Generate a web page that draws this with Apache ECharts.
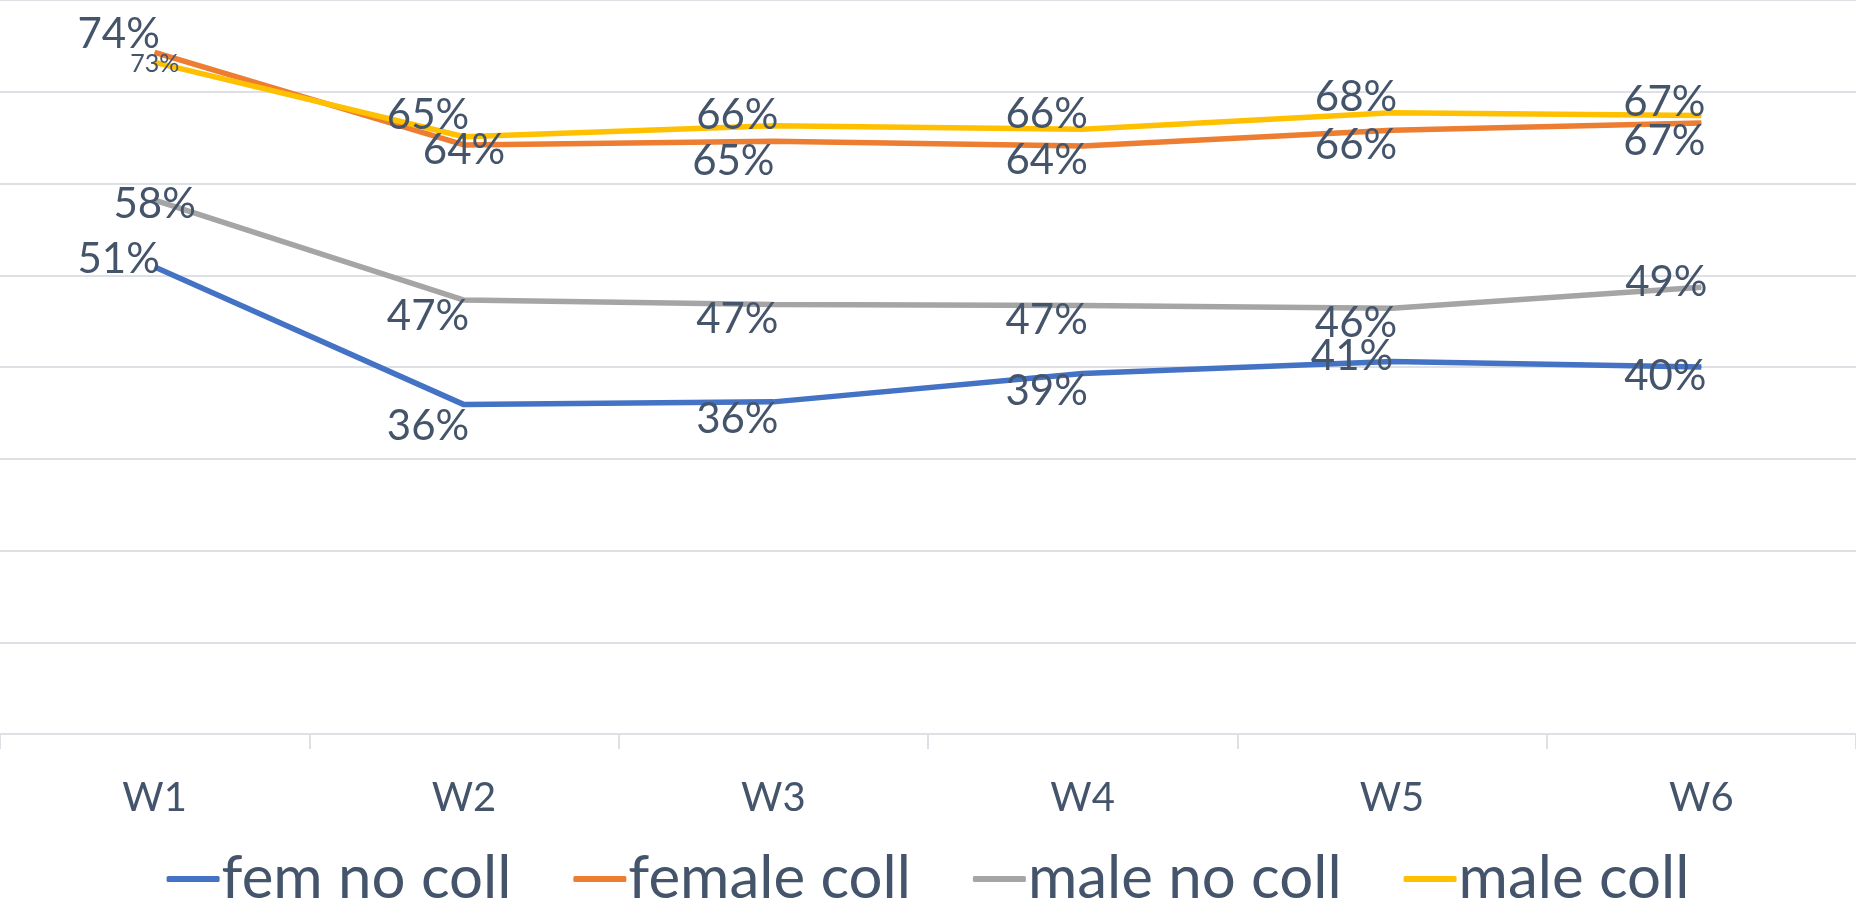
<!DOCTYPE html>
<html>
<head>
<meta charset="utf-8">
<script src="https://cdn.jsdelivr.net/npm/echarts@6/dist/echarts.min.js"></script>
<style>
  html, body { margin: 0; padding: 0; background: #fff; }
  #chart { width: 1856px; height: 916px; }
</style>
</head>
<body>
<div id="chart"></div>
<script>
// categories and values (percent)
var weeks = ['W1', 'W2', 'W3', 'W4', 'W5', 'W6'];
var femNoColl = [50.9, 35.9, 36.2, 39.3, 40.6, 40.0];
var femaleColl = [74.3, 64.2, 64.6, 64.1, 65.8, 66.6];
var maleNoColl = [58.2, 47.3, 46.8, 46.7, 46.4, 48.7];
var maleColl = [73.2, 65.1, 66.3, 65.9, 67.7, 67.4];

var textColor = '#44546A';
var gridColor = '#DDE1E6';
var font = 'Lato';

// where each data label sits relative to its point (px)
var offsets = {
    'fem no coll': [[-36, -8], [-36, 22], [-36, 18], [-36, 18], [-40, -5], [-36, 9]],
    'female coll': [[-36, -18], [0, 5], [-40, 20], [-36, 15], [-36, 15], [-37, 19]],
    'male no coll': [[0, 4], [-36, 16], [-36, 15], [-36, 15], [-36, 15], [-35, -5]],
    'male coll': [[0, 2], [-36, -21], [-36, -10], [-36, -15], [-36, -15], [-37, -13]]
};

function makeSeries(name, values, color) {
    var data = values.map(function (v, i) {
        var item = {
            value: v,
            label: { offset: offsets[name][i] }
        };
        // the small 73% label in W1
        if (name === 'male coll' && i === 0) item.label.fontSize = 25;
        return item;
    });
    return {
        name: name,
        type: 'line',
        data: data,
        symbol: 'circle',
        symbolSize: 1,
        showSymbol: true,
        lineStyle: { color: color, width: 5.5 },
        itemStyle: { color: color },
        label: {
            show: true,
            position: 'inside',
            color: textColor,
            fontFamily: font,
            fontSize: 42,
            formatter: function (p) {
                return Math.round(p.value) + '%';
            }
        },
        emphasis: { disabled: true },
        animation: false
    };
}

var option = {
    animation: false,
    grid: { left: 0, right: 0, top: 0, bottom: 182, containLabel: false },
    legend: {
        bottom: 2,
        left: 'center',
        itemWidth: 53,
        itemHeight: 6,
        itemGap: 62,
        icon: 'roundRect',
        textStyle: { color: textColor, fontFamily: font, fontSize: 60, padding: [0, 0, 0, -3] },
        data: ['fem no coll', 'female coll', 'male no coll', 'male coll']
    },
    xAxis: {
        type: 'category',
        data: weeks,
        boundaryGap: true,
        axisLine: { lineStyle: { color: gridColor, width: 2 } },
        axisTick: { show: true, length: 15, lineStyle: { color: gridColor, width: 2 } },
        axisLabel: { color: textColor, fontFamily: font, fontSize: 40, margin: 44 }
    },
    yAxis: {
        type: 'value',
        min: 0,
        max: 80,
        interval: 10,
        axisLabel: { show: false },
        axisLine: { show: false },
        axisTick: { show: false },
        splitLine: { lineStyle: { color: gridColor, width: 2 } }
    },
    series: [
        makeSeries('fem no coll', femNoColl, '#4472C4'),
        makeSeries('female coll', femaleColl, '#ED7D31'),
        makeSeries('male no coll', maleNoColl, '#A5A5A5'),
        makeSeries('male coll', maleColl, '#FFC000')
    ]
};

var myChart = echarts.init(document.getElementById('chart'));
myChart.setOption(option);
</script>
</body>
</html>
